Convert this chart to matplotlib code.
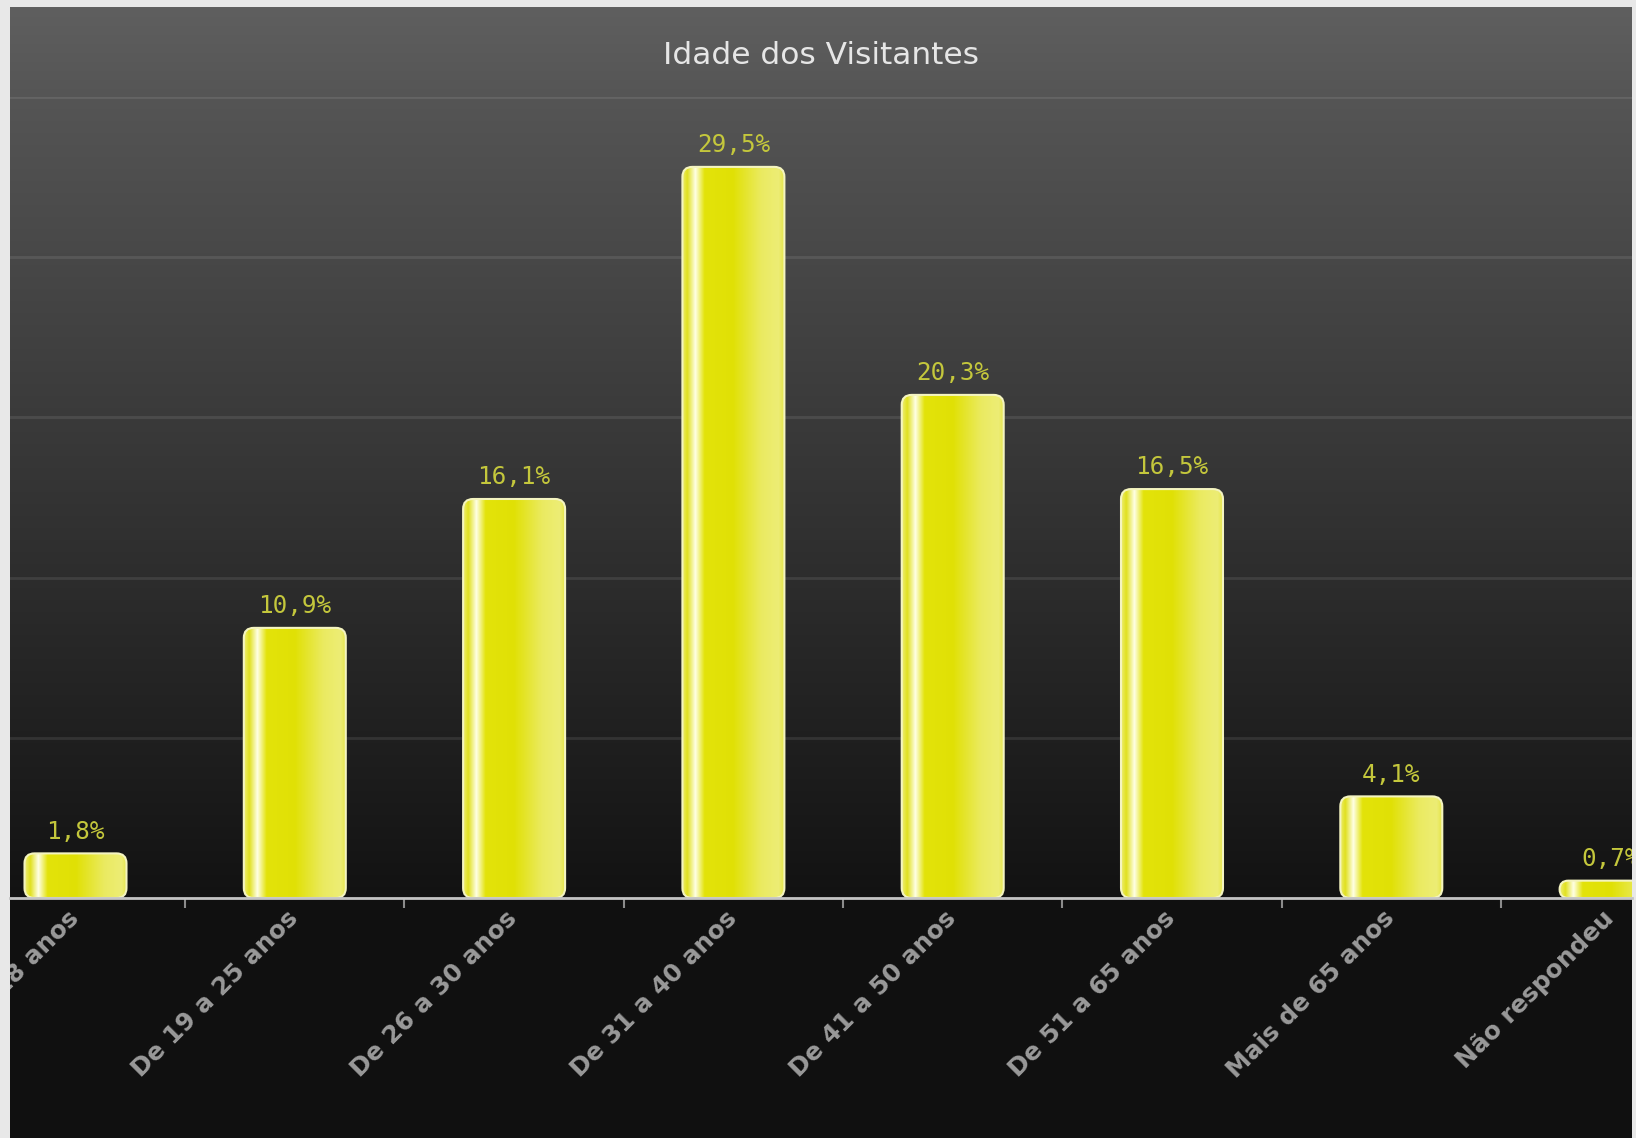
import numpy as np
import matplotlib.pyplot as plt
from matplotlib.patches import FancyBboxPatch
from matplotlib.transforms import offset_copy

categories = ["Até 18 anos", "De 19 a 25 anos", "De 26 a 30 anos", "De 31 a 40 anos",
              "De 41 a 50 anos", "De 51 a 65 anos", "Mais de 65 anos", "Não respondeu"]
percent = [1.8, 10.9, 16.1, 29.5, 20.3, 16.5, 4.1, 0.7]
value_labels = ["1,8%", "10,9%", "16,1%", "29,5%", "20,3%", "16,5%", "4,1%", "0,7%"]
title = "Idade dos Visitantes"

W, H = 1636, 1138
DPI = 100


def px(x0, y0, x1, y1):
    # pixel box, top-left origin -> figure fraction rect
    return [x0 / W, 1 - y1 / H, (x1 - x0) / W, (y1 - y0) / H]


fig = plt.figure(figsize=(W / DPI, H / DPI), dpi=DPI, facecolor="#e8e8e8")

# dark panel with vertical gradient
panel = (10, 7, 1632, 1138)
bg = fig.add_axes(px(*panel))
bg.set_axis_off()
ys = np.arange(panel[1], panel[3])
grey = np.interp(ys, [7, 97, 898, 899, 1138], [95, 85, 18, 16, 16]) / 255
img = np.repeat(grey[:, None, None], 3, axis=2)
img = np.repeat(img, 4, axis=1)
bg.imshow(img, aspect="auto", extent=[0, 1, 0, 1], interpolation="nearest")
bg.set_xlim(0, 1)
bg.set_ylim(0, 1)

# plot area
step = 219.3       # px between categories
first_x = 75.5     # px centre of first category
ymax = 32.32
ax = fig.add_axes(px(10, 97, 1632, 898))
ax.patch.set_alpha(0)

x = np.arange(len(categories))
bars = ax.bar(x, percent, width=0.465, color="none", edgecolor="none")

# horizontal gradient used inside every bar
stops = [0.0, 0.05, 0.13, 0.22, 0.5, 0.78, 0.95, 1.0]
cols = np.array([[0.93, 0.93, 0.45], [0.88, 0.88, 0.12], [1.0, 1.0, 0.90],
                 [0.89, 0.89, 0.04], [0.88, 0.88, 0.02], [0.92, 0.92, 0.38],
                 [0.93, 0.93, 0.46], [0.90, 0.90, 0.30]])
u = np.linspace(0, 1, 200)
grad = np.stack([np.interp(u, stops, cols[:, k]) for k in range(3)], axis=-1)[None, :, :]

px_per_y = 801 / ymax
aspect = step / px_per_y
for b in bars:
    bx, bw, bh = b.get_x(), b.get_width(), b.get_height()
    r_px = min(10, bh * px_per_y / 2)
    shape = FancyBboxPatch((bx, 0), bw, bh,
                           boxstyle="round,pad=0,rounding_size=%f" % (r_px / step),
                           mutation_aspect=aspect, facecolor="none",
                           edgecolor="#f4f4c0", linewidth=1.5, zorder=4)
    ax.add_patch(shape)
    im = ax.imshow(grad, extent=[bx, bx + bw, 0, bh], aspect="auto", zorder=3,
                   interpolation="bilinear")
    im.set_clip_path(shape)

for xi, v, lbl in zip(x, percent, value_labels):
    t = ax.annotate(lbl, (xi, v), xytext=(0, 10.5), textcoords="offset points",
                    ha="center", va="baseline", fontsize=17.5,
                    family="DejaVu Sans Mono", color="#c4c73c", zorder=5)
    t.set_clip_on(True)
    t.set_clip_box(ax.bbox)

# category labels, clipped to the dark panel
lab_tr = offset_copy(ax.transData, fig=fig, x=-9, y=-8, units="dots")
for xi, cat in zip(x, categories):
    t = fig.text(xi, 0, cat, transform=lab_tr, rotation=45, rotation_mode="anchor",
                 ha="right", va="top", fontsize=17.8, fontweight="bold",
                 color="#9a9a9a")
    t.set_clip_on(True)
    t.set_clip_box(bg.bbox)

ax.set_xlim(-(first_x - 10) / step, (1632 - first_x) / step)
ax.set_ylim(0, ymax)
ax.set_yticks(np.linspace(0, ymax, 6))
ax.yaxis.grid(True, color="#ffffff", alpha=0.09, linewidth=2)
ax.set_axisbelow(True)
ax.set_xticks(x[:-1] + 0.5)
ax.tick_params(axis="x", direction="out", length=7, width=1.5, color="#8c8c8c",
               labelbottom=False)
ax.tick_params(axis="y", left=False, labelleft=False)
for s in ["top", "left", "right"]:
    ax.spines[s].set_visible(False)
ax.spines["bottom"].set_color("#c4c4c4")
ax.spines["bottom"].set_linewidth(2)
ax.spines["bottom"].set_zorder(6)

fig.text(821 / W, 1 - 56 / H, title, ha="center", va="center",
         fontsize=22.5, color="#e6e6e6")

fig.savefig("out.png", dpi=DPI, facecolor=fig.get_facecolor())
